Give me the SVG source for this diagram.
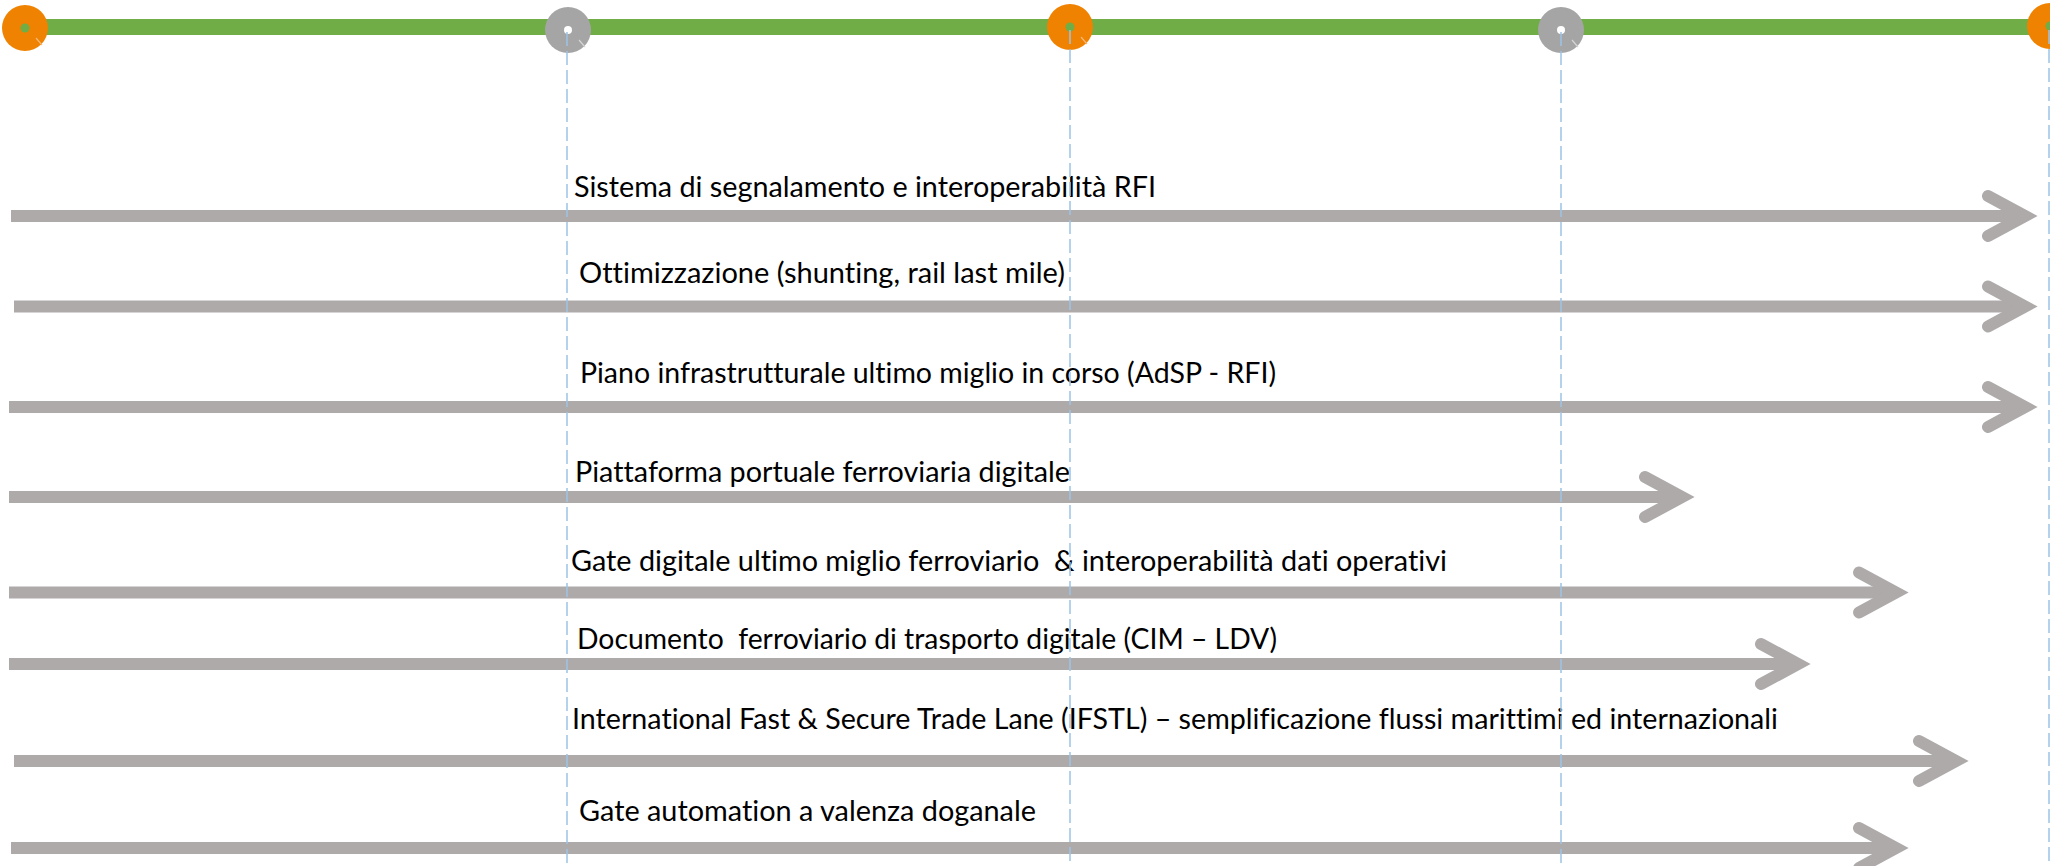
<svg xmlns="http://www.w3.org/2000/svg" width="2050" height="866" viewBox="0 0 2050 866">
<style>
.bar{stroke:#AEAAAA;stroke-width:12;stroke-linecap:butt;fill:none}
.lbl{font-family:Lato,"Liberation Sans",sans-serif;font-size:28.5px;fill:#000;font-variant-ligatures:none;font-feature-settings:"liga" 0}
.guide{stroke:#9DC3E6;stroke-width:1.5;stroke-dasharray:14 5;fill:none}
.orange{fill:#EF8200}
.grey{fill:#A5A5A5}
</style>
<defs>
<marker id="chev" markerUnits="userSpaceOnUse" viewBox="-50 -30 60 60" refX="0" refY="0" markerWidth="60" markerHeight="60" orient="auto" overflow="visible">
<path d="M-37,-20 L0,0 L-37,20" fill="none" stroke="#AEAAAA" stroke-width="12" stroke-linecap="round" stroke-linejoin="miter" stroke-miterlimit="10"/>
</marker>
</defs>
<rect width="2050" height="866" fill="#FFFFFF"/>
<g id="timeline">
<line x1="25" y1="27" x2="2050" y2="27" stroke="#70AD47" stroke-width="16"/>
</g>
<g id="milestone-1">
<circle class="orange" cx="25" cy="28" r="23"/>
<circle cx="25" cy="28" r="4.5" fill="#70AD47"/>
<line x1="36" y1="38" x2="42" y2="45" stroke="#F7B877" stroke-width="1.2"/>
</g>
<g id="milestone-2">
<circle class="grey" cx="568" cy="30" r="23"/>
<circle cx="568" cy="30" r="4" fill="#FFFFFF"/>
<line x1="579" y1="40" x2="585" y2="47" stroke="#D6D6D6" stroke-width="1.2"/>
</g>
<g id="milestone-3">
<circle class="orange" cx="1070" cy="27" r="23"/>
<circle cx="1070" cy="27" r="4.5" fill="#70AD47"/>
<line x1="1081" y1="37" x2="1087" y2="44" stroke="#F7B877" stroke-width="1.2"/>
</g>
<g id="milestone-4">
<circle class="grey" cx="1561" cy="30" r="23"/>
<circle cx="1561" cy="30" r="4" fill="#FFFFFF"/>
<line x1="1572" y1="40" x2="1578" y2="47" stroke="#D6D6D6" stroke-width="1.2"/>
</g>
<g id="milestone-5">
<circle class="orange" cx="2050" cy="26" r="23"/>
<circle cx="2050" cy="26" r="4.5" fill="#70AD47"/>
</g>
<g id="connectors">
<line class="bar" x1="11" y1="216" x2="2025" y2="216" marker-end="url(#chev)"/>
<line class="bar" x1="14" y1="306.5" x2="2025" y2="306.5" marker-end="url(#chev)"/>
<line class="bar" x1="9" y1="407" x2="2025" y2="407" marker-end="url(#chev)"/>
<line class="bar" x1="9" y1="497" x2="1682" y2="497" marker-end="url(#chev)"/>
<line class="bar" x1="9" y1="592.5" x2="1896" y2="592.5" marker-end="url(#chev)"/>
<line class="bar" x1="9" y1="664" x2="1798" y2="664" marker-end="url(#chev)"/>
<line class="bar" x1="14" y1="761" x2="1956" y2="761" marker-end="url(#chev)"/>
<line class="bar" x1="11" y1="848" x2="1896" y2="848" marker-end="url(#chev)"/>
</g>
<g id="label-1"><text class="lbl" x="574" y="197" textLength="582" lengthAdjust="spacingAndGlyphs">Sistema di segnalamento e interoperabilità RFI</text></g>
<g id="label-2"><text class="lbl" x="579" y="283" textLength="486" lengthAdjust="spacingAndGlyphs">Ottimizzazione (shunting, rail last mile)</text></g>
<g id="label-3"><text class="lbl" x="580" y="383" textLength="696" lengthAdjust="spacingAndGlyphs">Piano infrastrutturale ultimo miglio in corso (AdSP - RFI)</text></g>
<g id="label-4"><text class="lbl" x="575" y="482" textLength="495" lengthAdjust="spacingAndGlyphs">Piattaforma portuale ferroviaria digitale</text></g>
<g id="label-5"><text class="lbl" x="571" y="571" textLength="876" lengthAdjust="spacingAndGlyphs" xml:space="preserve">Gate digitale ultimo miglio ferroviario  &amp; interoperabilità dati operativi</text></g>
<g id="label-6"><text class="lbl" x="577" y="649" textLength="700" lengthAdjust="spacingAndGlyphs" xml:space="preserve">Documento  ferroviario di trasporto digitale (CIM – LDV)</text></g>
<g id="label-7"><text class="lbl" x="572" y="729" textLength="1206" lengthAdjust="spacingAndGlyphs">International Fast &amp; Secure Trade Lane (IFSTL) – semplificazione flussi marittimi ed internazionali</text></g>
<g id="label-8"><text class="lbl" x="579" y="821" textLength="457" lengthAdjust="spacingAndGlyphs">Gate automation a valenza doganale</text></g>
<g id="guides">
<line class="guide" x1="567" y1="32" x2="567" y2="866"/>
<line class="guide" x1="1070" y1="30" x2="1070" y2="866"/>
<line class="guide" x1="1561" y1="32" x2="1561" y2="866"/>
<line class="guide" x1="2049" y1="30" x2="2049" y2="866"/>
</g>
</svg>
